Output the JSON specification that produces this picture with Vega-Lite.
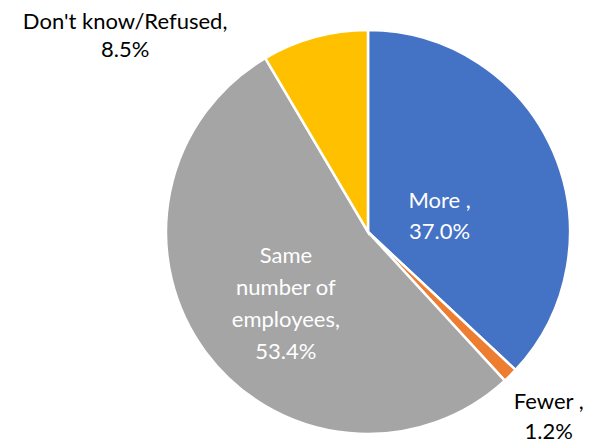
{
  "$schema": "https://vega.github.io/schema/vega-lite/v6.json",
  "width": 404,
  "height": 404,
  "autosize": {"type": "none"},
  "padding": {"left": 166, "top": 30, "right": 24, "bottom": 12},
  "background": "white",
  "config": {"view": {"stroke": null}, "text": {"lineBreak": "\n"}},
  "data": {
    "values": [
      {"cat": "More", "idx": 1, "pct": 37.0, "label": "More ,\n37.0%"},
      {"cat": "Fewer", "idx": 2, "pct": 1.2, "label": "Fewer ,\n1.2%"},
      {"cat": "Same number of employees", "idx": 3, "pct": 53.4, "label": "Same\nnumber of\nemployees,\n53.4%"},
      {"cat": "Don't know/Refused", "idx": 4, "pct": 8.5, "label": "Don't know/Refused,\n8.5%"}
    ]
  },
  "encoding": {
    "theta": {"field": "pct", "type": "quantitative", "stack": true},
    "order": {"field": "idx", "type": "quantitative", "sort": "ascending"}
  },
  "layer": [
    {
      "mark": {"type": "arc", "stroke": "white", "strokeWidth": 2.5},
      "encoding": {
        "color": {
          "field": "cat",
          "type": "nominal",
          "scale": {
            "domain": ["More", "Fewer", "Same number of employees", "Don't know/Refused"],
            "range": ["#4472C4", "#ED7D31", "#A5A5A5", "#FFC000"]
          },
          "legend": null
        }
      }
    },
    {
      "mark": {"type": "text", "radius": 78, "dy": 0, "fill": "white", "font": "Lato", "fontSize": 22, "lineHeight": 31, "lineBreak": "\n", "align": "center", "baseline": "middle"},
      "encoding": {
        "text": {"condition": {"test": "datum.cat === 'More'", "field": "label"}, "value": ""}
      }
    },
    {
      "mark": {"type": "text", "radius": 106, "dx": 3, "dy": -39, "fill": "white", "font": "Lato", "fontSize": 22, "lineHeight": 32, "lineBreak": "\n", "align": "center", "baseline": "middle"},
      "encoding": {
        "text": {"condition": {"test": "datum.cat === 'Same number of employees'", "field": "label"}, "value": ""}
      }
    },
    {
      "mark": {"type": "text", "radius": 258, "dx": -1, "dy": -13, "fill": "#000000", "font": "Lato", "fontSize": 22, "lineHeight": 30, "lineBreak": "\n", "align": "center", "baseline": "middle"},
      "encoding": {
        "text": {"condition": {"test": "datum.cat === 'Fewer'", "field": "label"}, "value": ""}
      }
    },
    {
      "mark": {"type": "text", "radius": 212, "dx": -187, "dy": -5, "fill": "#000000", "font": "Lato", "fontSize": 22, "lineHeight": 28, "lineBreak": "\n", "align": "center", "baseline": "middle"},
      "encoding": {
        "text": {"condition": {"test": "datum.cat === 'Don\\'t know/Refused'", "field": "label"}, "value": ""}
      }
    }
  ]
}
